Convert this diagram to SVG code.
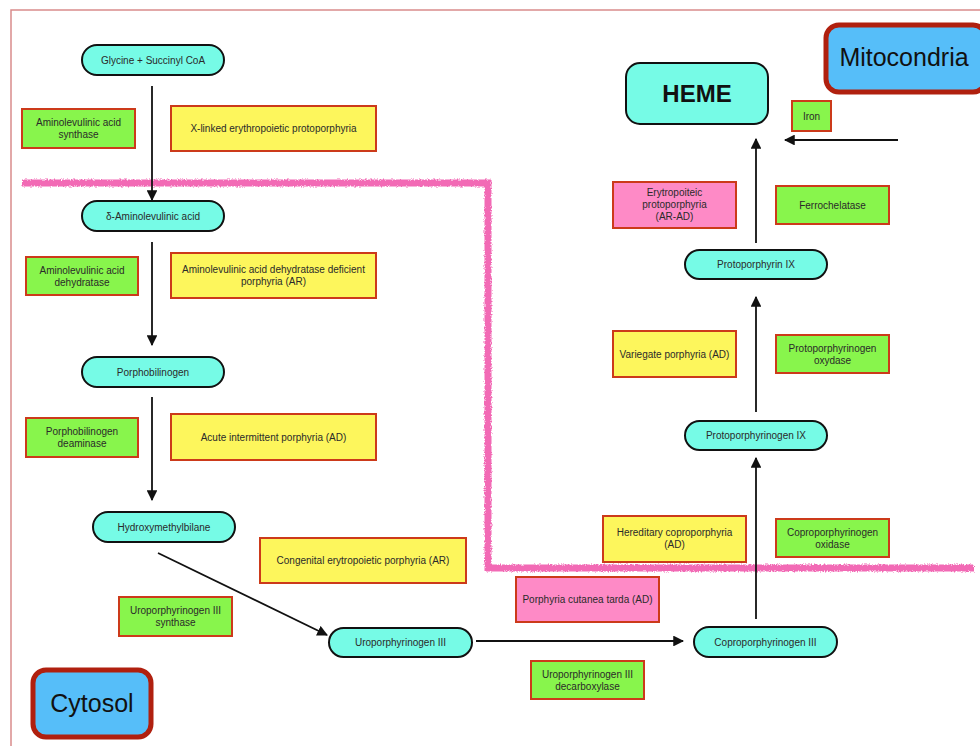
<svg xmlns="http://www.w3.org/2000/svg" width="980" height="746" viewBox="0 0 980 746">
<defs>
<style>
.node rect{fill:#76fbe6;stroke:#111;stroke-width:2}
.enz rect{fill:#88f54c;stroke:#cc3a1a;stroke-width:2}
.dis rect{fill:#fdf65c;stroke:#cc3a1a;stroke-width:2}
.pink rect{fill:#fe8ac6;stroke:#cc3a1a;stroke-width:2}
.comp rect{fill:#56bef9;stroke:#b0200f;stroke-width:5}
text{font-family:"Liberation Sans",Arial,sans-serif;font-size:10px;fill:#2a2a2a;text-anchor:middle}
.big{font-size:25px;fill:#111}
.heme{font-size:24px;font-weight:bold;fill:#111}
.edge{stroke:#111;stroke-width:1.8;fill:none;marker-end:url(#ah)}
.zone{stroke:#f26bb5;stroke-width:7;fill:none;filter:url(#rough)}
</style>
<marker id="ah" viewBox="0 0 10 10" refX="9" refY="5" markerWidth="6" markerHeight="6" orient="auto" markerUnits="strokeWidth">
<path d="M0,0 L10,5 L0,10 z" fill="#111"/>
</marker>
<filter id="rough" x="-5%" y="-5%" width="110%" height="110%">
<feTurbulence type="fractalNoise" baseFrequency="0.7" numOctaves="2" result="n"/>
<feDisplacementMap in="SourceGraphic" in2="n" scale="4"/>
</filter>
</defs>
<rect width="980" height="746" fill="#fff"/>
<path d="M11,746 V10 H980" fill="none" stroke="#d98c8c" stroke-width="1.5"/>
<path class="zone" d="M22,183 H488 V568 H974"/>
<g id="connectors">
<line class="edge" x1="152" y1="86" x2="152" y2="200"/>
<line class="edge" x1="152" y1="242" x2="152" y2="345"/>
<line class="edge" x1="152" y1="397" x2="152" y2="500"/>
<line class="edge" x1="158" y1="553" x2="327" y2="635"/>
<line class="edge" x1="476" y1="641" x2="683" y2="641"/>
<line class="edge" x1="756" y1="619" x2="756" y2="458"/>
<line class="edge" x1="756" y1="412" x2="756" y2="297"/>
<line class="edge" x1="756" y1="243" x2="756" y2="139"/>
<line class="edge" x1="898" y1="140" x2="785" y2="140"/>
</g>
<g id="glycine" class="node"><rect x="82" y="45" width="142" height="30" rx="15"/><text x="153" y="63.5">Glycine + Succinyl CoA</text></g>
<g id="ala" class="node"><rect x="82" y="201" width="142" height="30" rx="15"/><text x="153" y="219.5">δ-Aminolevulinic acid</text></g>
<g id="pbg" class="node"><rect x="82" y="357" width="142" height="30" rx="15"/><text x="153" y="375.5">Porphobilinogen</text></g>
<g id="hmb" class="node"><rect x="93" y="512" width="142" height="30" rx="15"/><text x="164" y="530.5">Hydroxymethylbilane</text></g>
<g id="uro" class="node"><rect x="329" y="628" width="143" height="29" rx="14.5"/><text x="400.5" y="646">Uroporphyrinogen III</text></g>
<g id="copro" class="node"><rect x="694" y="627" width="143" height="30" rx="15"/><text x="765.5" y="645.5">Coproporphyrinogen III</text></g>
<g id="protogen" class="node"><rect x="685" y="421" width="142" height="29" rx="14.5"/><text x="756" y="439">Protoporphyrinogen IX</text></g>
<g id="proto" class="node"><rect x="685" y="250" width="142" height="29" rx="14.5"/><text x="756" y="268">Protoporphyrin IX</text></g>
<g id="heme" class="node"><rect x="626" y="63" width="142" height="61" rx="14"/><text class="heme" x="697" y="102">HEME</text></g>
<g id="mitocondria" class="comp"><rect x="826" y="25" width="160" height="67" rx="13"/><text class="big" x="904" y="66">Mitocondria</text></g>
<g id="cytosol" class="comp"><rect x="33" y="670" width="118" height="67" rx="13"/><text class="big" x="92" y="712">Cytosol</text></g>
<g id="e_alas" class="enz"><rect x="22" y="109" width="113" height="39"/><text x="78.5" y="126">Aminolevulinic acid</text><text x="78.5" y="138">synthase</text></g>
<g id="e_alad" class="enz"><rect x="26" y="257" width="112" height="38"/><text x="82" y="273.5">Aminolevulinic acid</text><text x="82" y="285.5">dehydratase</text></g>
<g id="e_pbgd" class="enz"><rect x="26" y="418" width="112" height="39"/><text x="82" y="435">Porphobilinogen</text><text x="82" y="447">deaminase</text></g>
<g id="e_uros" class="enz"><rect x="119" y="597" width="113" height="39"/><text x="175.5" y="614">Uroporphyrinogen III</text><text x="175.5" y="626">synthase</text></g>
<g id="e_urod" class="enz"><rect x="531" y="661" width="113" height="38"/><text x="587.5" y="677.5">Uroporphyrinogen III</text><text x="587.5" y="689.5">decarboxylase</text></g>
<g id="e_cpox" class="enz"><rect x="776" y="519" width="113" height="38"/><text x="832.5" y="535.5">Coproporphyrinogen</text><text x="832.5" y="547.5">oxidase</text></g>
<g id="e_ppox" class="enz"><rect x="776" y="335" width="113" height="38"/><text x="832.5" y="351.5">Protoporphyrinogen</text><text x="832.5" y="363.5">oxydase</text></g>
<g id="e_fech" class="enz"><rect x="776" y="186" width="113" height="38"/><text x="832.5" y="208.5">Ferrochelatase</text></g>
<g id="e_iron" class="enz"><rect x="792" y="101" width="39" height="30"/><text x="811.5" y="119.5">Iron</text></g>
<g id="d_xlep" class="dis"><rect x="171" y="106" width="205" height="45"/><text x="273.5" y="131.5">X-linked erythropoietic protoporphyria</text></g>
<g id="d_adp" class="dis"><rect x="171" y="253" width="205" height="45"/><text x="273.5" y="272.5">Aminolevulinic acid dehydratase deficient</text><text x="273.5" y="284.5">porphyria (AR)</text></g>
<g id="d_aip" class="dis"><rect x="171" y="414" width="205" height="46"/><text x="273.5" y="440.5">Acute intermittent porphyria (AD)</text></g>
<g id="d_cep" class="dis"><rect x="260" y="538" width="206" height="45"/><text x="363" y="564">Congenital erytropoietic porphyria (AR)</text></g>
<g id="d_vp" class="dis"><rect x="613" y="331" width="123" height="46"/><text x="674.5" y="357.5">Variegate porphyria (AD)</text></g>
<g id="d_hcp" class="dis"><rect x="603" y="516" width="143" height="46"/><text x="674.5" y="536">Hereditary coproporphyria</text><text x="674.5" y="548">(AD)</text></g>
<g id="d_epp" class="pink"><rect x="613" y="182" width="123" height="46"/><text x="674.5" y="196">Erytropoiteic</text><text x="674.5" y="208">protoporphyria</text><text x="674.5" y="220">(AR-AD)</text></g>
<g id="d_pct" class="pink"><rect x="516" y="577" width="143" height="45"/><text x="587.5" y="603">Porphyria cutanea tarda (AD)</text></g>
</svg>
